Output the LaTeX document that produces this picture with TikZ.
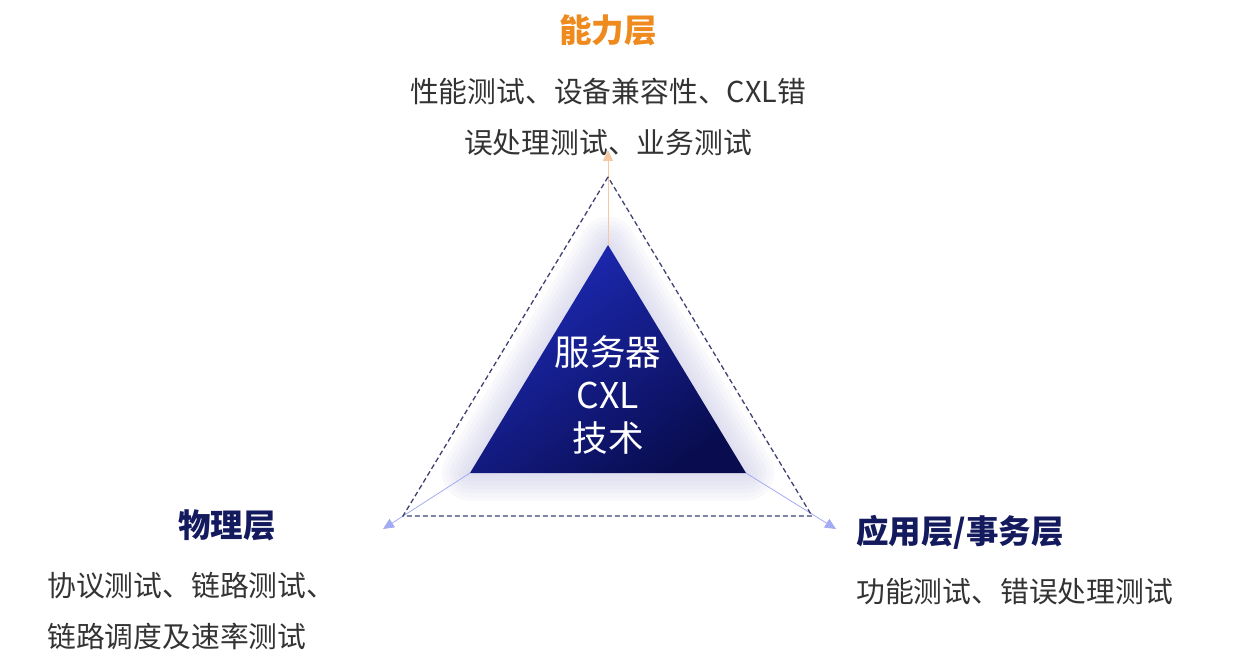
\documentclass[tikz,border=0pt]{standalone}
\usepackage{fontspec}
\setmainfont{Noto Sans CJK SC}
\usetikzlibrary{arrows.meta}
\definecolor{orangeT}{HTML}{EE8A1E}
\definecolor{navyT}{HTML}{141A5E}
\definecolor{bodyT}{HTML}{333333}
\definecolor{arrowB}{HTML}{A3ABF2}
\definecolor{arrowO}{HTML}{F6C8A2}
\definecolor{dashC}{HTML}{3E4270}
\definecolor{triTop}{HTML}{1E2BBA}
\definecolor{triBot}{HTML}{090D50}
\definecolor{glowC}{HTML}{C8C8E6}
\tikzset{
  title/.style={font=\fontsize{32.5}{38}\selectfont\bfseries},
  body/.style={font=\fontsize{28.8}{51}\selectfont, text=bodyT, inner sep=0pt},
  connB/.style={draw=arrowB, line width=0.8pt, -{Triangle[length=11pt,width=10pt]}},
  connO/.style={draw=arrowO, line width=0.8pt, -{Triangle[length=11pt,width=10pt]}},
  outer/.style={draw=dashC, line width=1.3pt, dash pattern=on 5pt off 3pt},
}
\begin{document}
\begin{tikzpicture}[x=1pt,y=-1pt]
\useasboundingbox (0,0) rectangle (1253,671);
% vertices
\coordinate (oA) at (608,177);
\coordinate (oL) at (403,516);
\coordinate (oR) at (812,516);
\coordinate (iA) at (608,245);
\coordinate (iL) at (470,473);
\coordinate (iR) at (746,473);
\coordinate (tipT) at (608,150);
\coordinate (tipL) at (383,529);
\coordinate (tipR) at (836,529);
% glow
\foreach \w in {56,48,40,32,24,16,8}{
  \draw[glowC, line width=\w pt, line join=round, opacity=0.11, yshift=-8pt]
    (iA) -- (iL) -- (iR) -- cycle;
}
% connectors
\draw[connO] (iA) -- (tipT);
\draw[connB] (iL) -- (tipL);
\draw[connB] (iR) -- (tipR);
% outer dashed triangle
\draw[outer] (oA) -- (oL) -- (oR) -- cycle;
% inner triangle
\shade[top color=triTop, bottom color=triBot, shading angle=35] (iA) -- (iL) -- (iR) -- cycle;
\node[font=\fontsize{35.5}{43}\selectfont, text=white, align=center, inner sep=0pt] (core) at (608,395) {服务器\\CXL\\技术};
% texts
\node[title, text=orangeT, inner sep=0pt] (capT) at (608,30) {能力层};
\node[body, align=center] (capB) at (608,117) {性能测试、设备兼容性、CXL错\\误处理测试、业务测试};
\node[title, text=navyT, inner sep=0pt] (phyT) at (227,525) {物理层};
\node[body, align=left, anchor=west] (phyB) at (47,611) {协议测试、链路测试、\\链路调度及速率测试};
\node[title, text=navyT, inner sep=0pt, anchor=west] (appT) at (856,532) {应用层/事务层};
\node[body, anchor=west] (appB) at (856,592) {功能测试、错误处理测试};
\end{tikzpicture}
\end{document}
